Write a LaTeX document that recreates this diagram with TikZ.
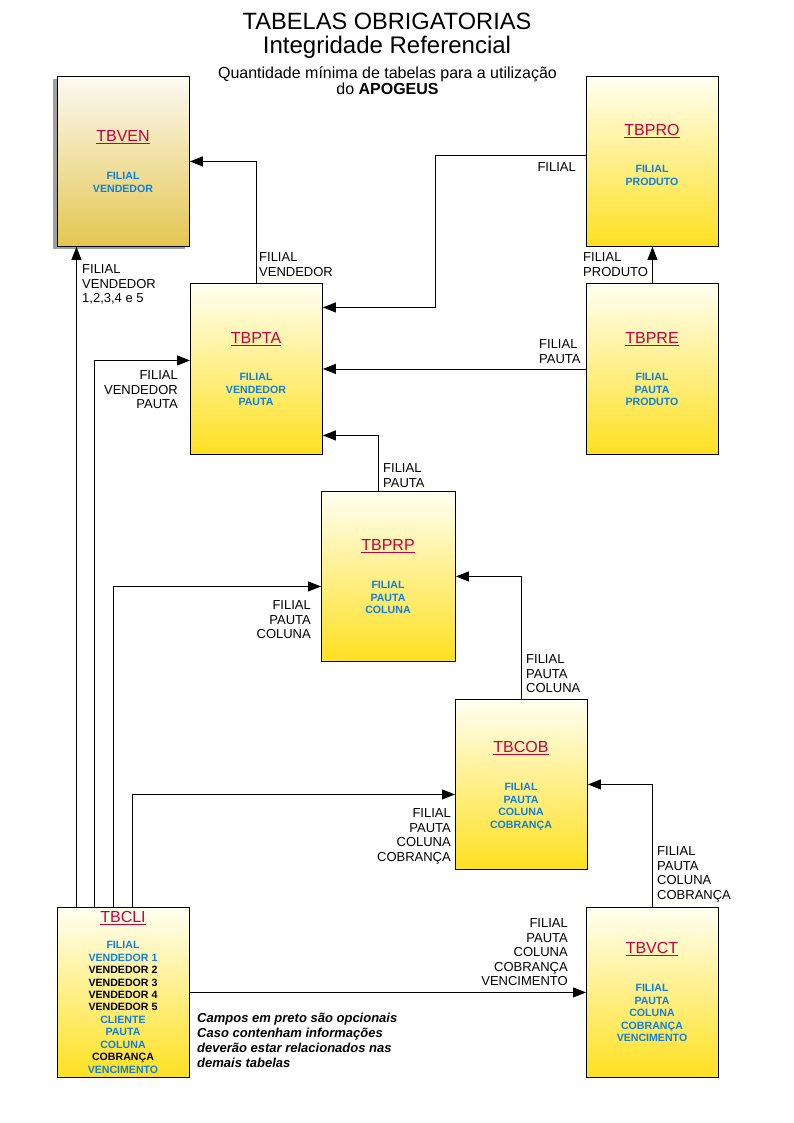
\documentclass[tikz,border=0pt]{standalone}
\usepackage{fontspec}
\setmainfont{Liberation Sans}
\usetikzlibrary{arrows.meta,shadows}
\definecolor{namered}{RGB}{200,0,60}
\definecolor{fieldblue}{RGB}{16,128,220}
\definecolor{boxtop}{RGB}{255,255,242}
\definecolor{boxbot}{RGB}{255,224,32}
\definecolor{ventop}{RGB}{252,250,242}
\definecolor{venbot}{RGB}{228,198,80}
\begin{document}
\begin{tikzpicture}[x=1pt,y=-1pt,
 tbl/.style={draw=black,line width=0.9pt,top color=boxtop,bottom color=boxbot,minimum width=132pt,minimum height=170pt,inner sep=0pt,anchor=north west},
 tname/.style={font=\fontsize{16}{18}\selectfont,text=namered,inner sep=0pt,anchor=base},
 fields/.style={font=\fontsize{10.6}{12.45}\selectfont\bfseries,text=fieldblue,inner sep=0pt,anchor=north,align=center},
 lab/.style={font=\fontsize{13}{14.6}\selectfont,inner sep=0pt},
 arr/.style={line width=0.9pt,-{Triangle[length=13pt,width=10pt]}}]
\useasboundingbox[fill=white] (0,0) rectangle (794,1123);

% titles
\node[inner sep=0pt,anchor=base,font=\fontsize{23.6}{26}\selectfont] (t1) at (387,30) {TABELAS OBRIGATORIAS};
\node[inner sep=0pt,anchor=base,font=\fontsize{24}{26}\selectfont] (t2) at (387,54) {Integridade Referencial};
\node[inner sep=0pt,anchor=base,font=\fontsize{16}{19}\selectfont] (t3) at (387.5,78.5) {Quantidade mínima de tabelas para a utilização};
\node[inner sep=0pt,anchor=base,font=\fontsize{16}{19}\selectfont] (t4) at (387.5,95) {do \textbf{APOGEUS}};

% tables
\node[tbl,top color=ventop,bottom color=venbot,drop shadow={shadow xshift=-4pt,shadow yshift=-3pt,fill=gray!75,opacity=1}] (ven) at (57,76) {};
\node[tbl] (pro) at (586,76) {};
\node[tbl,minimum height=171pt] (pta) at (190,283) {};
\node[tbl,minimum height=171pt] (pre) at (586,283) {};
\node[tbl,minimum width=134pt] (prp) at (321,491) {};
\node[tbl] (cob) at (455,699) {};
\node[tbl] (vct) at (586,907) {};
\node[tbl] (cli) at (57,907) {};

% names
\node[tname] (venN) at (123,141.7) {\underline{TBVEN}};
\node[tname] (proN) at (652,135.7) {\underline{TBPRO}};
\node[tname] (ptaN) at (256,343.7) {\underline{TBPTA}};
\node[tname] (preN) at (652,343.7) {\underline{TBPRE}};
\node[tname] (prpN) at (388,550.7) {\underline{TBPRP}};
\node[tname] (cobN) at (521,752.7) {\underline{TBCOB}};
\node[tname] (vctN) at (652,953.7) {\underline{TBVCT}};
\node[tname] (cliN) at (123,922.7) {\underline{TBCLI}};

% fields
\node[fields] (venF) at (123,172.2) {FILIAL\\VENDEDOR};
\node[fields] (proF) at (652,165.2) {FILIAL\\PRODUTO};
\node[fields] (ptaF) at (256,373.2) {FILIAL\\VENDEDOR\\PAUTA};
\node[fields] (preF) at (652,373.2) {FILIAL\\PAUTA\\PRODUTO};
\node[fields] (prpF) at (388,581.2) {FILIAL\\PAUTA\\COLUNA};
\node[fields] (cobF) at (521,783.2) {FILIAL\\PAUTA\\COLUNA\\COBRANÇA};
\node[fields] (vctF) at (652,984.2) {FILIAL\\PAUTA\\COLUNA\\COBRANÇA\\VENCIMENTO};
\node[fields] (cliF) at (123,941.2) {FILIAL\\VENDEDOR 1\\\textcolor{black}{VENDEDOR 2}\\\textcolor{black}{VENDEDOR 3}\\\textcolor{black}{VENDEDOR 4}\\\textcolor{black}{VENDEDOR 5}\\CLIENTE\\PAUTA\\COLUNA\\\textcolor{black}{COBRANÇA}\\VENCIMENTO};

% connectors
\draw[arr] (pta.north) |- (ven.east);
\draw[arr] ([yshift=6pt]pro.west) -- ++(-151,0) |- ([yshift=61.5pt]pta.east);
\draw[arr] (pre.north) -- (pro.south);
\draw[arr] (pre.west) -- (pta.east);
\draw[arr] ([xshift=-10pt]prp.north) |- ([yshift=-66.5pt]pta.east);
\draw[arr] (cob.north) |- (prp.east);
\draw[arr] (vct.north) |- (cob.east);
\draw[arr] (cli.east) -- (vct.west);
\draw[arr] ([xshift=-47pt]cli.north) -- ([xshift=-47pt]ven.south);
\draw[arr] ([xshift=-29pt]cli.north) |- ([yshift=8.5pt]pta.west);
\draw[arr] ([xshift=-10pt]cli.north) |- ([yshift=-10pt]prp.west);
\draw[arr] ([xshift=9pt]cli.north) |- ([yshift=-10pt]cob.west);

% labels
\node[lab,anchor=north west,align=left] (l1) at (259,252.3) {FILIAL\\VENDEDOR};
\node[lab,anchor=north east,align=right] (l2) at (576,162.3) {FILIAL};
\node[lab,anchor=north west,align=left] (l3) at (583,252.3) {FILIAL\\PRODUTO};
\node[lab,anchor=north west,align=left] (l4) at (539,339.3) {FILIAL\\PAUTA};
\node[lab,anchor=north west,align=left] (l5) at (383,463.3) {FILIAL\\PAUTA};
\node[lab,anchor=north west,align=left] (l6) at (526,654.3) {FILIAL\\PAUTA\\COLUNA};
\node[lab,anchor=north west,align=left] (l7) at (657,846.3) {FILIAL\\PAUTA\\COLUNA\\COBRANÇA};
\node[lab,anchor=north east,align=right] (l8) at (568,918.3) {FILIAL\\PAUTA\\COLUNA\\COBRANÇA\\VENCIMENTO};
\node[lab,anchor=north west,align=left] (l9) at (82,264.3) {FILIAL\\VENDEDOR\\1,2,3,4 e 5};
\node[lab,anchor=north east,align=right] (l10) at (178,370.3) {FILIAL\\VENDEDOR\\PAUTA};
\node[lab,anchor=north east,align=right] (l11) at (311,600.3) {FILIAL\\PAUTA\\COLUNA};
\node[lab,anchor=north east,align=right] (l12) at (451,808.3) {FILIAL\\PAUTA\\COLUNA\\COBRANÇA};

% note
\node[inner sep=0pt,anchor=north west,align=left,font=\fontsize{13}{15}\selectfont\bfseries\itshape] (note) at (197,1013) {Campos em preto são opcionais\\Caso contenham informações\\deverão estar relacionados nas\\demais tabelas};
\end{tikzpicture}
\end{document}
